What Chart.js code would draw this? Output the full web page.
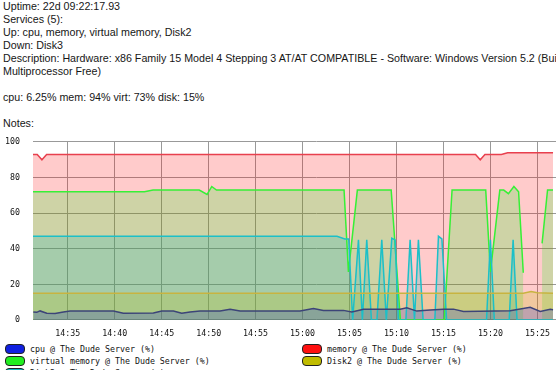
<!DOCTYPE html>
<html>
<head>
<meta charset="utf-8">
<script src="https://cdn.jsdelivr.net/npm/chart.js@4.4.1/dist/chart.umd.min.js"></script>
<style>
  html, body { margin: 0; padding: 0; background: #fff; overflow: hidden; width: 556px; height: 370px; }
  #info { position: absolute; left: 3px; top: 0; font: 10.7px "Liberation Sans", Arial, sans-serif; line-height: 13px; color: #161616; white-space: nowrap; }
  #graph { position: absolute; left: 0; top: 124px; display: block; }
  #legend { position: absolute; left: 0; top: 344px; width: 600px; font: 8.3px "DejaVu Sans Mono", monospace; color: #111; }
  .item { position: absolute; height: 10px; line-height: 10px; white-space: nowrap; }
  .box { position: absolute; left: 0; top: 0; width: 18px; height: 8px; border: 1px solid #222; border-radius: 4px; }
  .txt { position: absolute; left: 25px; top: 0; }
</style>
</head>
<body>
<div id="info">
Uptime: 22d 09:22:17.93<br>
Services (5):<br>
Up: cpu, memory, virtual memory, Disk2<br>
Down: Disk3<br>
Description: Hardware: x86 Family 15 Model 4 Stepping 3 AT/AT COMPATIBLE - Software: Windows Version 5.2 (Build 3790<br>
Multiprocessor Free)<br>
<br>
cpu: 6.25% mem: 94% virt: 73% disk: 15%<br>
<br>
Notes:
</div>
<canvas id="graph" width="600" height="216"></canvas>
<div id="legend"></div>
<script>
// series (time of sample, percent)
var seriesNames = ['cpu @ The Dude Server (%)', 'memory @ The Dude Server (%)', 'virtual memory @ The Dude Server (%)',
    'Disk2 @ The Dude Server (%)', 'Disk3 @ The Dude Server (%)'];
var seriesColors = ['#1020e0', '#ff1010', '#20ee20', '#c0bc00', '#10b8c0'];
var lineColors = ['#3c4478', '#e8404e', '#36f036', '#c8b440', '#1cc0c8'];
// which fill lies on top: memory at the bottom, cpu last
var drawOrder = [1, 5, 4, 2, 3];

var cpuTimes = ['14:31:20', '14:31:42', '14:32:03', '14:32:46', '14:33:39', '14:34:32', '14:35:15', '14:39:52', '14:40:55',
    '14:44:07', '14:45:01', '14:46:15', '14:47:08', '14:48:01', '14:49:05', '14:51:13', '14:52:17', '14:53:21', '14:59:44',
    '15:01:09', '15:02:13', '15:04:21', '15:05:15', '15:06:29', '15:10:23', '15:11:06', '15:12:10', '15:13:35', '15:15:00',
    '15:16:04', '15:17:08', '15:22:06', '15:24:14', '15:25:18', '15:26:22', '15:26:40'];
var cpuVals = [4.5, 4.3, 5.1, 3.8, 3.6, 4.5, 5, 5, 3.8,
    3.9, 5, 5, 3.8, 4.5, 5, 5.1, 6.1, 5.1, 5.1,
    6.4, 5.4, 5.4, 4.5, 6, 6, 6.9, 5, 5.6, 6,
    6.1, 4.8, 5.2, 7.1, 4.8, 6, 5.8];

var memTimes = ['14:31:18', '14:31:45', '14:32:15', '14:32:45', '15:18:25', '15:18:55', '15:19:25', '15:21:10', '15:21:50', '15:26:40'];
var memVals = [93, 93, 90, 93, 93, 90, 93, 93, 94, 94];

var virtTimes = ['14:31:18', '14:43:10', '14:44:05', '14:49:00', '14:49:50', '14:50:20', '14:50:50', '15:04:25', '15:04:53',
    '15:05:50', '15:09:26', '15:10:25', '15:15:05', '15:15:55', '15:19:30', '15:20:00', '15:21:00', '15:21:25', '15:21:55',
    '15:22:30', '15:23:00', '15:23:30', '15:24:00', '15:25:30', '15:26:05', '15:26:40'];
var virtVals = [72, 72, 73, 73, 70.5, 75, 73, 73, 27,
    73, 73, 0, 0, 73, 73, 27, 73, 73, 71,
    75, 72, 26.5, null, 43, 73, 73];

var disk2Times = ['14:31:18', '15:23:30', '15:24:20', '15:25:00', '15:26:40'];
var disk2Vals = [15, 15, 16, 15.3, 15];

var disk3Times = ['14:31:18', '15:03:40', '15:04:30', '15:04:55', '15:05:20', '15:05:57', '15:06:22', '15:06:50', '15:07:20',
    '15:07:55', '15:08:26', '15:08:55', '15:09:30', '15:09:51', '15:10:12', '15:11:00', '15:11:27', '15:11:55', '15:12:20',
    '15:12:50', '15:14:05', '15:14:28', '15:14:50', '15:15:20', '15:19:35', '15:20:00', '15:20:25', '15:22:00', '15:22:25',
    '15:22:50', '15:26:40'];
var disk3Vals = [47, 47, 45.5, 45.5, 0, 45, 0, 45, 0,
    0, 45, 0, 46, 45, 0, 0, 45, 0, 45,
    0, 0, 47, 45.5, 0, 0, 45, 0, 0, 45,
    0, 0];

var xTickLabels = ['14:35', '14:40', '14:45', '14:50', '14:55', '15:00', '15:05', '15:10', '15:15', '15:20', '15:25'];
var yTicks = [0, 20, 40, 60, 80, 100];
var xStart = '14:31:18';
var xEnd = '15:31:40';

function toMin(s) {
    var p = s.split(':').map(Number);
    return p[0] * 60 + p[1] + (p[2] || 0) / 60;
}
function pts(times, vals) {
    return times.map(function (t, i) { return { x: toMin(t), y: vals[i] }; });
}
function pad(n) { return (n < 10 ? '0' : '') + n; }
function fade(hex, a) {
    var n = parseInt(hex.slice(1), 16);
    return 'rgba(' + (n >> 16) + ',' + ((n >> 8) & 255) + ',' + (n & 255) + ',' + a + ')';
}

var allSeries = [pts(cpuTimes, cpuVals), pts(memTimes, memVals), pts(virtTimes, virtVals),
    pts(disk2Times, disk2Vals), pts(disk3Times, disk3Vals)];

var datasets = allSeries.map(function (d, i) {
    return {
        label: seriesNames[i],
        data: d,
        order: drawOrder[i],
        borderColor: lineColors[i],
        backgroundColor: fade(seriesColors[i], 0.22),
        borderWidth: 1.5,
        pointRadius: 0,
        tension: 0,
        fill: 'origin',
        spanGaps: false
    };
});

var tickFont = { family: 'DejaVu Sans Mono', size: 8.3 };

var ctx = document.getElementById('graph').getContext('2d');
var graph = new Chart(ctx, {
    type: 'line',
    data: { datasets: datasets },
    options: {
        responsive: false,
        animation: false,
        events: [],
        layout: { padding: 0 },
        plugins: {
            legend: { display: false },
            tooltip: { enabled: false },
            filler: { drawTime: 'beforeDatasetsDraw' }
        },
        scales: {
            x: {
                type: 'linear',
                min: toMin(xStart),
                max: toMin(xEnd),
                afterBuildTicks: function (scale) {
                    scale.ticks = xTickLabels.map(function (l) { return { value: toMin(l) }; });
                },
                afterFit: function (scale) { scale.height = 20; },
                ticks: {
                    autoSkip: false,
                    maxRotation: 0,
                    padding: 9,
                    color: '#111',
                    font: tickFont,
                    callback: function (v) {
                        var h = Math.floor(v / 60), m = Math.round(v - h * 60);
                        return pad(h) + ':' + pad(m);
                    }
                },
                grid: { color: '#999', drawTicks: false },
                border: { display: false }
            },
            y: {
                min: 0,
                max: 100,
                afterBuildTicks: function (scale) {
                    scale.ticks = yTicks.map(function (v) { return { value: v }; });
                },
                afterFit: function (scale) { scale.width = 33; },
                ticks: { padding: 13, color: '#111', font: tickFont },
                grid: { color: '#999', drawTicks: false },
                border: { display: false }
            }
        }
    }
});

// legend in two columns below the graph
var legend = document.getElementById('legend');
seriesNames.forEach(function (name, i) {
    var item = document.createElement('div');
    item.className = 'item';
    item.style.left = (i % 2 === 0 ? 5 : 302) + 'px';
    item.style.top = (Math.floor(i / 2) * 12) + 'px';
    item.innerHTML = '<span class="box" style="background:' + seriesColors[i] + '"></span><span class="txt"></span>';
    item.querySelector('.txt').textContent = name;
    legend.appendChild(item);
});
</script>
</body>
</html>
